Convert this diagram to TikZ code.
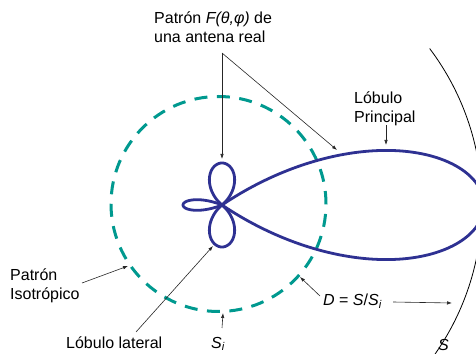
\documentclass[tikz,border=0pt]{standalone}
\usepackage{fontspec}
\setmainfont{Liberation Sans}
\usetikzlibrary{arrows.meta}
\definecolor{teal1}{RGB}{0,153,143}
\definecolor{navy1}{RGB}{46,49,146}
\begin{document}
\begin{tikzpicture}[x=1pt,y=1pt,
  lbl/.style={font=\fontsize{16}{19}\selectfont, inner sep=0pt, align=left},
  arr/.style={-{Latex[length=5pt,width=3.5pt]}, line width=0.6pt, draw=black!85},
  lobe/.style={draw=navy1, line width=2.8pt, line join=round},
  iso/.style={draw=teal1, line width=3pt, dash pattern=on 13pt off 9.5pt},
  sphere/.style={draw=black, line width=0.8pt}]
\useasboundingbox (0,0) rectangle (476,353);
\clip (0,0) rectangle (476,353);
\coordinate (O) at (222,148);
% isotropic pattern
\node[iso, circle, minimum size=215pt, inner sep=0pt] (iso) at (218.5,149) {};
% sphere S
\draw[sphere] (O) ++(37:260) arc[start angle=37, end angle=-37, radius=260];
% real antenna pattern
\begin{scope}[shift={(O)}]
  \draw[lobe] plot[domain=-34:34, samples=137, smooth] (\x:{262*abs(cos(90*\x/34))});
  \draw[lobe] plot[domain=40:140, samples=101, smooth] (\x:{42*abs(cos(90*(\x-90)/50))});
  \draw[lobe] plot[domain=-140:-40, samples=101, smooth] (\x:{42*abs(cos(90*(\x+90)/50))});
  \draw[lobe] plot[domain=158:202, samples=61, smooth] (\x:{39*abs(cos(90*(\x-180)/22))});
\end{scope}
% labels (base anchor = baseline of the last line)
\node[lbl, anchor=base west] (pat) at (154,310) {Patrón \textit{F(θ,φ)} de\\una antena real};
\node[lbl, anchor=base west] (princ) at (354,230) {Lóbulo\\Principal};
\node[lbl, anchor=base west] (isolbl) at (10,53) {Patrón\\Isotrópico};
\node[lbl, anchor=base west] (lat) at (66,5) {Lóbulo lateral};
\node[lbl, anchor=base west] (si) at (211,5) {\textit{S}\textsubscript{\textit{i}}};
\node[lbl, anchor=base west] (dlbl) at (323,47) {\textit{D} = \textit{S}/\textit{S}\textsubscript{\textit{i}}};
\node[lbl, anchor=base west] (slbl) at (438,2) {\textit{S}};
% arrows
\coordinate (apex) at (222,300);
\coordinate (sideTop) at (222,194);
\coordinate (mainEdge) at (337,203);
\draw[arr] (apex) -- (sideTop);
\draw[arr] (apex) -- (mainEdge);
\coordinate (princS) at (386,228);
\coordinate (princE) at (386,208);
\draw[arr] (princS) -- (princE);
\coordinate (isoS) at (82,70);
\coordinate (isoE) at (128,87);
\draw[arr] (isoS) -- (isoE);
\coordinate (latS) at (136,21);
\coordinate (latE) at (213,107);
\draw[arr] (latS) -- (latE);
\coordinate (siS) at (222,25);
\coordinate (siE) at (223,40);
\draw[arr] (siS) -- (siE);
\coordinate (dS) at (320,57);
\coordinate (dE) at (300,76);
\draw[arr] (dS) -- (dE);
\coordinate (d2S) at (393,51);
\coordinate (d2E) at (452,50);
\draw[arr] (d2S) -- (d2E);
\end{tikzpicture}
\end{document}
